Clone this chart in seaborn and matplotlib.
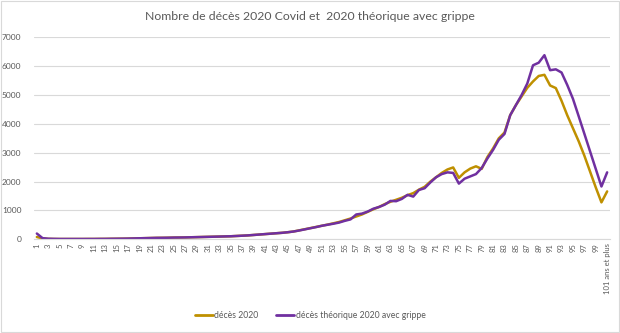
import numpy as np
import pandas as pd
import seaborn as sns
import matplotlib.pyplot as plt
from matplotlib.patches import Rectangle

sns.set_theme(style="white")
plt.rcParams["font.family"] = ["Lato", "DejaVu Sans"]

# Age categories (1 .. 100, then the open-ended last class)
ages = [str(a) for a in range(1, 101)] + ["101 ans et plus"]

# Deaths recorded in 2020 by age
deces_2020 = [
    80, 30, 15, 12, 10, 10, 10, 10, 10, 12,
    12, 14, 15, 18, 20, 22, 25, 30, 35, 40,
    45, 50, 52, 55, 60, 62, 65, 70, 75, 80,
    85, 90, 95, 100, 105, 115, 125, 135, 150, 165,
    180, 195, 210, 225, 245, 270, 310, 350, 390, 430,
    470, 510, 555, 600, 660, 720, 790, 860, 950, 1040,
    1120, 1220, 1300, 1370, 1440, 1530, 1600, 1720, 1820, 2000,
    2150, 2300, 2420, 2490, 2130, 2320, 2450, 2530, 2440, 2850,
    3150, 3500, 3700, 4300, 4650, 4950, 5250, 5470, 5660, 5700,
    5330, 5240, 4800, 4300, 3850, 3400, 2900, 2350, 1800, 1280,
    1660,
]

# Theoretical 2020 deaths including a flu season
deces_theorique = [
    200, 40, 20, 15, 12, 12, 12, 12, 12, 12,
    12, 14, 15, 18, 20, 22, 25, 30, 35, 40,
    45, 50, 52, 55, 60, 62, 65, 70, 75, 80,
    85, 90, 95, 100, 105, 115, 125, 135, 150, 165,
    180, 195, 210, 225, 245, 270, 305, 345, 385, 425,
    470, 505, 540, 580, 640, 690, 860, 890, 960, 1060,
    1120, 1200, 1330, 1320, 1400, 1540, 1480, 1710, 1770, 1970,
    2150, 2260, 2320, 2300, 1930, 2100, 2180, 2260, 2470, 2800,
    3100, 3450, 3650, 4300, 4650, 5000, 5400, 6030, 6120, 6380,
    5860, 5890, 5780, 5350, 4870, 4270, 3660, 3050, 2440, 1830,
    2320,
]

serie_names = ["décès 2020", "décès théorique 2020 avec grippe"]
colors = ["#BF9000", "#7030A0"]

pos = np.arange(len(ages))
df = pd.concat([
    pd.DataFrame({"pos": pos, "age": ages, "deces": deces_2020, "serie": serie_names[0]}),
    pd.DataFrame({"pos": pos, "age": ages, "deces": deces_theorique, "serie": serie_names[1]}),
])

fig = plt.figure(figsize=(6.2, 3.33), dpi=100)
ax = fig.add_axes([34 / 620, 1 - 239.3 / 333, 576 / 620, 202 / 333])

sns.lineplot(data=df, x="pos", y="deces", hue="serie", palette=colors,
             hue_order=serie_names, linewidth=1.8, ax=ax, legend=False)

ax.set_xlim(-0.5, len(ages) - 0.5)
ax.set_ylim(0, 7000)
ax.set_yticks(np.arange(0, 7001, 1000))
ax.yaxis.grid(True, color="#D9D9D9", linewidth=0.8)
ax.set_axisbelow(True)
for s in ax.spines.values():
    s.set_visible(False)
ax.spines["bottom"].set_visible(True)
ax.spines["bottom"].set_color("#D9D9D9")
ax.spines["bottom"].set_linewidth(0.8)

ax.set_xticks(pos[::2])
ax.set_xticklabels(ages[::2], rotation=90, fontsize=5.5, color="#595959")
ax.tick_params(axis="x", length=0, pad=3)
ax.tick_params(axis="y", length=0, pad=9, labelsize=6, labelcolor="#595959")
ax.set_xlabel("")
ax.set_ylabel("")

fig.text(0.5, 1 - 17 / 333, "Nombre de décès 2020 Covid et  2020 théorique avec grippe",
         ha="center", va="center", fontsize=8.8, color="#595959")

handles = [plt.Line2D([], [], color=c, linewidth=2) for c in colors]
fig.legend(handles, serie_names, loc="center", bbox_to_anchor=(0.5, 1 - 316 / 333),
           ncol=2, frameon=False, fontsize=6.2, labelcolor="#595959",
           handlelength=2.1, handletextpad=0.2, columnspacing=2.0)

fig.patches.append(Rectangle((0.002, 0.003), 0.996, 0.994, transform=fig.transFigure,
                             fill=False, edgecolor="#D9D9D9", linewidth=0.8))

fig.savefig("out.png", dpi=100)
